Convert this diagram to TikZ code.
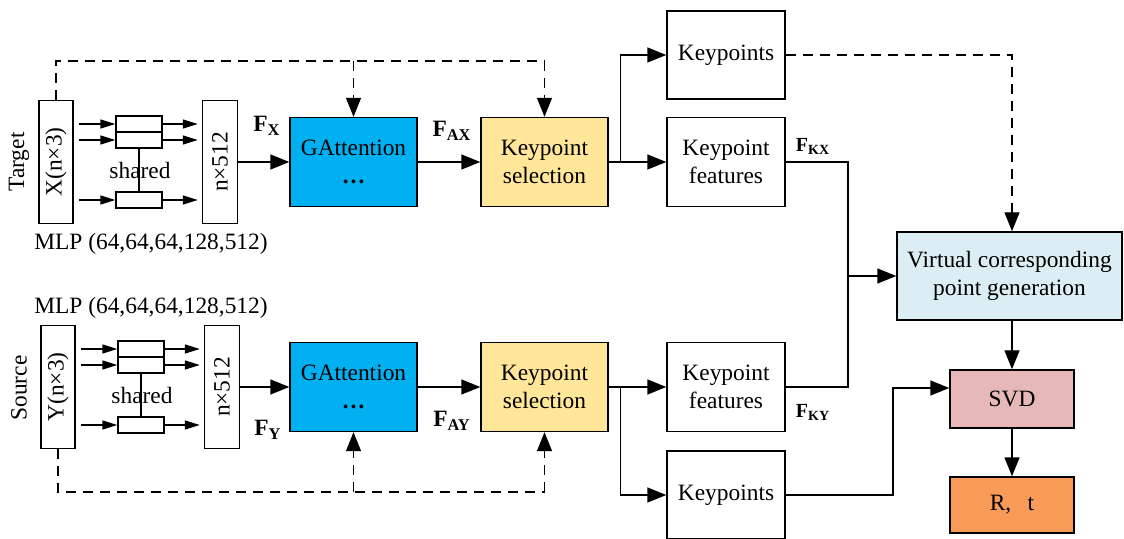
\documentclass[tikz,border=0pt]{standalone}
\usepackage{fontspec}
\setmainfont{Liberation Serif}
\usetikzlibrary{arrows.meta}
\usetikzlibrary{positioning}
\usetikzlibrary{calc}
\definecolor{gatt}{HTML}{00B0F0}
\definecolor{kpsel}{HTML}{FFE699}
\definecolor{vcpg}{HTML}{DAEEF3}
\definecolor{svdc}{HTML}{E6B9B8}
\definecolor{pose}{HTML}{F79B57}
\newcommand{\feat}[1]{\textbf{F}\textsubscript{\textbf{#1}}}

\begin{document}
\begin{tikzpicture}[
  x=0.5pt, y=-0.5pt,
  font=\fontsize{11.7}{14}\selectfont,
  line width=0.7pt,
  box/.style 2 args={
    draw,
    align=center,
    inner sep=0pt,
    minimum width=#1*0.5pt,
    minimum height=#2*0.5pt},
  dep/.style={
    -{Triangle[length=9.5pt,width=7.5pt]}
  },
  tap/.style={
    -{Triangle[length=7.5pt,width=4.5pt]}
  },
  skip/.style={
    dash pattern=on 5pt off 3.5pt
  },
  klab/.style={
    font=\fontsize{10}{12}\selectfont
  },
]

  \useasboundingbox (0,0) rectangle (1124,539);

  % Target / Source branches
  \foreach \r/\lvl/\dx/\side/\sk/\kp in {X/162/0/north/-101/-107, Y/387/2/south/105/108} {
    % input cloud and shared MLP
    \node[box={34}{123}] (in\r) at (56+\dx, \lvl) {};
    \node[rotate=90] (inl\r) at (in\r) {\r(n×3)};
    \foreach \k/\off in {1/-38, 2/-22, 3/38} {
        \node[box={46}{16}] (m\r\k) at (139+\dx, \lvl+\off) {};
    }
    \node[box={35}{123}] (n\r) at (220+\dx, \lvl) {};
    \node[rotate=90] (nl\r) at (n\r) {n×512};
    \foreach \k in {1,2,3} {
        \draw[tap, shorten <=2.5pt] (in\r.east |- m\r\k.west) -- (m\r\k.west);
        \draw[tap, shorten >=2pt] (m\r\k.east) -- (m\r\k.east -| n\r.west);
    }
    \draw (m\r2.south) -- (m\r3.north);
    \node (sh\r) at (140+\dx, \lvl+8) {shared};

    % attention, selection, keypoints
    \node[box={127}{89}, fill=gatt] (ga\r) at (353.5, \lvl) {GAttention\\\textbf{\dots}};
    \node[box={127}{89}, fill=kpsel] (ks\r) at (544.5, \lvl) {Keypoint\\selection};
    \node[box={118}{89}] (kf\r) at (726, \lvl) {Keypoint\\features};
    \node[box={118}{88}] (kp\r) at (726, \lvl+\kp) {Keypoints};

    \draw[dep] (n\r.east |- ga\r.west) -- (ga\r.west);
    \draw[dep] (ga\r.east) -- (ks\r.west);
    \draw (ks\r.east) -- ++(12,0) coordinate (br\r);
    \draw[dep] (br\r) -- (kf\r.west);
    \draw[dep] (br\r) |- (kp\r.west);

    % skip connections from the raw points
    \coordinate (sk\r) at (56+\dx, \lvl+\sk);
    \draw[skip] (in\r.\side) -- (sk\r) -- (sk\r -| ks\r.\side);
    \draw[skip, dep] (sk\r -| ga\r.\side) -- (ga\r.\side);
    \draw[skip, dep] (sk\r -| ks\r.\side) -- (ks\r.\side);
  }

  \node[rotate=90] (tgt) at (19, 162) {Target};
  \node[rotate=90] (src) at (19, 388) {Source};
  \node (mlpX) at (151, 244) {MLP (64,64,64,128,512)};
  \node (mlpY) at (151, 308) {MLP (64,64,64,128,512)};

  % feature labels
  \node (fX) at (267, 126) {\feat{X}};
  \node (fY) at (268, 430) {\feat{Y}};
  \node (fAX) at (452, 131) {\feat{AX}};
  \node (fAY) at (452, 421) {\feat{AY}};
  \node[klab] (fKX) at (813, 146) {\feat{KX}};
  \node[klab] (fKY) at (813, 412) {\feat{KY}};

  % correspondence and pose
  \node[box={225}{88}, fill=vcpg] (vcp) at (1009.5, 276) {Virtual corresponding\\point generation};
  \node[box={124}{58}, fill=svdc] (svd) at (1012, 399) {SVD};
  \node[box={124}{56}, fill=pose] (rt) at (1012, 505) {R,\hspace{0.7em}t};

  \coordinate (jn) at (848, 276);
  \coordinate (sj) at (893, 388);
  \draw (kfX.east) -| (jn |- kfY.east) -- (kfY.east);
  \draw[dep] (jn) -- (vcp.west);
  \draw[skip, dep] (kpX.east) -| (svd.north |- vcp.north);
  \draw[dep] (svd.north |- vcp.south) -- (svd.north);
  \draw[dep] (kpY.east) -| (sj) -- (svd.west |- sj);
  \draw[dep] (svd.south) -- (rt.north);

\end{tikzpicture}
\end{document}
